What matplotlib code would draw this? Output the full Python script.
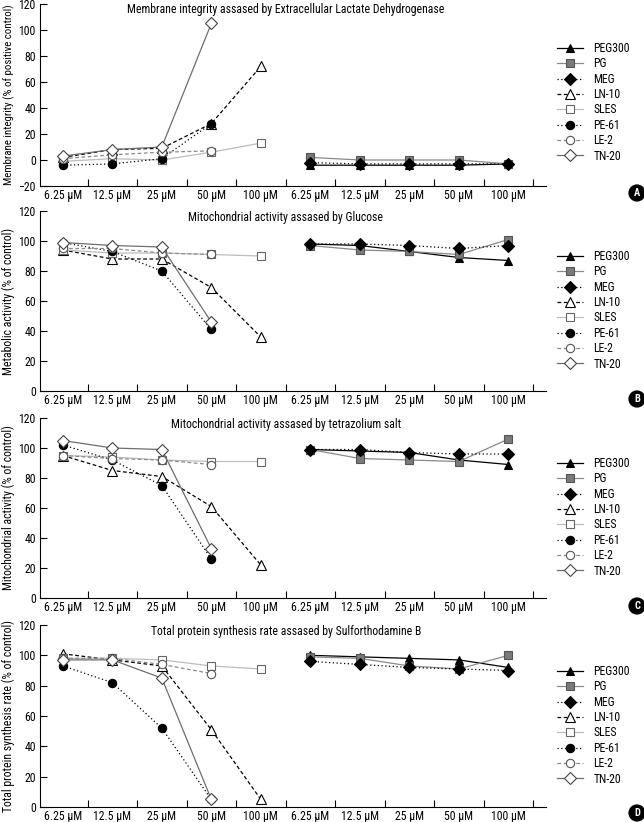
import numpy as np
import matplotlib
matplotlib.use("Agg")
import matplotlib.pyplot as plt

plt.rcParams["font.family"] = ["Roboto Condensed", "DejaVu Sans"]
plt.rcParams["font.size"] = 8

nan = np.nan

x_labels = ["6.25 µM", "12.5 µM", "25 µM", "50 µM", "100 µM"] * 2
series = ["PEG300", "PG", "MEG", "LN-10", "SLES", "PE-61", "LE-2", "TN-20"]
right_group = {"PEG300", "PG", "MEG"}

titles = [
    "Membrane integrity assased by Extracellular Lactate Dehydrogenase",
    "Mitochondrial activity assased by Glucose",
    "Mitochondrial activity assased by tetrazolium salt",
    "Total protein synthesis rate assased by Sulforthodamine B",
]
ylabels = [
    "Membrane integrity (% of positive control)",
    "Metabolic activity (% of control)",
    "Mitochondrial activity (% of control)",
    "Total protein synthesis rate (% of control)",
]
letters = ["A", "B", "C", "D"]

# values per concentration (6.25, 12.5, 25, 50, 100 uM)
ldh = {
    "PEG300": [-4, -4, -4, -4, -3],
    "PG": [2, 0, 0, 0, -3],
    "MEG": [-2, -3, -3, -3, -3],
    "LN-10": [2, 8, 9, 28, 72],
    "SLES": [-1, 1, 0, 6, 13],
    "PE-61": [-4, -3, 1, 28, nan],
    "LE-2": [1, 4, 6, 7, nan],
    "TN-20": [3, 8, 10, 105, nan],
}
glucose = {
    "PEG300": [98, 97, 93, 89, 87],
    "PG": [97, 94, 93, 91, 101],
    "MEG": [98, 98, 97, 95, 97],
    "LN-10": [94, 88, 88, 69, 36],
    "SLES": [94, 92, 92, 91, 90],
    "PE-61": [99, 93, 80, 41, nan],
    "LE-2": [95, 95, 92, 91, nan],
    "TN-20": [99, 97, 96, 46, nan],
}
mtt = {
    "PEG300": [99, 98, 97, 92, 89],
    "PG": [99, 93, 92, 91, 106],
    "MEG": [99, 99, 97, 96, 96],
    "LN-10": [95, 85, 81, 61, 22],
    "SLES": [95, 94, 92, 91, 91],
    "PE-61": [102, 92, 75, 26, nan],
    "LE-2": [95, 93, 92, 89, nan],
    "TN-20": [105, 100, 99, 33, nan],
}
srb = {
    "PEG300": [100, 99, 98, 97, 92],
    "PG": [99, 98, 93, 91, 100],
    "MEG": [96, 94, 92, 91, 90],
    "LN-10": [101, 97, 93, 51, 5],
    "SLES": [98, 98, 97, 93, 91],
    "PE-61": [93, 82, 52, 5, nan],
    "LE-2": [98, 98, 94, 88, nan],
    "TN-20": [97, 97, 85, 5, nan],
}
panels = [ldh, glucose, mtt, srb]
ylims = [(-20, 120), (0, 120), (0, 120), (0, 120)]

styles = {
    "PEG300": dict(color="black", ls="-", marker="^", mfc="black", mec="black", ms=6),
    "PG": dict(color="#8a8a8a", ls="-", marker="s", mfc="#7a7a7a", mec="#555555", ms=6),
    "MEG": dict(color="black", ls=(0, (1, 2)), marker="D", mfc="black", mec="black", ms=6),
    "LN-10": dict(color="black", ls=(0, (3, 2)), marker="^", mfc="white", mec="black", ms=7),
    "SLES": dict(color="#bdbdbd", ls="-", marker="s", mfc="white", mec="#666666", ms=6),
    "PE-61": dict(color="black", ls=(0, (1, 2)), marker="o", mfc="black", mec="black", ms=6),
    "LE-2": dict(color="#8a8a8a", ls=(0, (3, 2)), marker="o", mfc="white", mec="#555555", ms=6),
    "TN-20": dict(color="#6e6e6e", ls="-", marker="D", mfc="white", mec="#444444", ms=6.5),
}

W, H = 644, 822
fig = plt.figure(figsize=(W / 100, H / 100), dpi=100)

# pixel boxes: (top, bottom)
boxes = [(4, 186), (211, 391), (418, 598), (625, 807)]
left, right = 40, 546
legend_tops = [42, 250, 457, 665]
letter_y = [193, 399, 606, 813]
title_y = [10, 217, 424, 632]
ylabel_sizes = [7.8, 8.5, 8.5, 8.5]

for k, data in enumerate(panels):
    top, bot = boxes[k]
    ax = fig.add_axes([left / W, 1 - bot / H, (right - left) / W, (bot - top) / H])
    for name in series:
        st = styles[name]
        x0 = 5 if name in right_group else 0
        ax.plot(np.arange(x0, x0 + 5), data[name], lw=0.9, label=name,
                color=st["color"], ls=st["ls"], marker=st["marker"],
                mfc=st["mfc"], mec=st["mec"], ms=st["ms"], mew=0.8)
    ax.set_xlim(-0.46, 9.76)
    ax.set_ylim(*ylims[k])
    ax.set_yticks(np.arange(ylims[k][0], 121, 20))
    ax.set_xticks(np.arange(10))
    ax.set_xticklabels(x_labels)
    ax.set_xticks(np.arange(0.5, 10, 1), minor=True)
    ax.tick_params(axis="x", which="major", length=0, pad=2.5, labelsize=8.5)
    ax.tick_params(axis="x", which="minor", direction="in", length=5, width=0.8)
    ax.tick_params(axis="y", direction="in", length=5, width=0.8, pad=3, labelsize=8.5)
    for s in ["top", "right"]:
        ax.spines[s].set_visible(False)
    for s in ["left", "bottom"]:
        ax.spines[s].set_linewidth(0.8)
    ax.set_ylabel(ylabels[k], fontsize=ylabel_sizes[k])
    ax.yaxis.set_label_coords(-0.05, 0.5)

    fig.text(286 / W, 1 - title_y[k] / H, titles[k], ha="center", va="center", fontsize=8.5)

    handles, labels = ax.get_legend_handles_labels()
    fig.legend(handles, labels, loc="upper left",
               bbox_to_anchor=(557 / W, 1 - legend_tops[k] / H),
               frameon=False, fontsize=8.5, handlelength=2.2, handletextpad=0.9,
               labelspacing=0.2, borderpad=0, borderaxespad=0, numpoints=1)

    fig.text(637 / W, 1 - letter_y[k] / H, letters[k], ha="center", va="center",
             color="white", fontsize=7.5, fontweight="bold",
             bbox=dict(boxstyle="circle,pad=0.28", fc="black", ec="black"))

fig.savefig("out.png", dpi=100)
